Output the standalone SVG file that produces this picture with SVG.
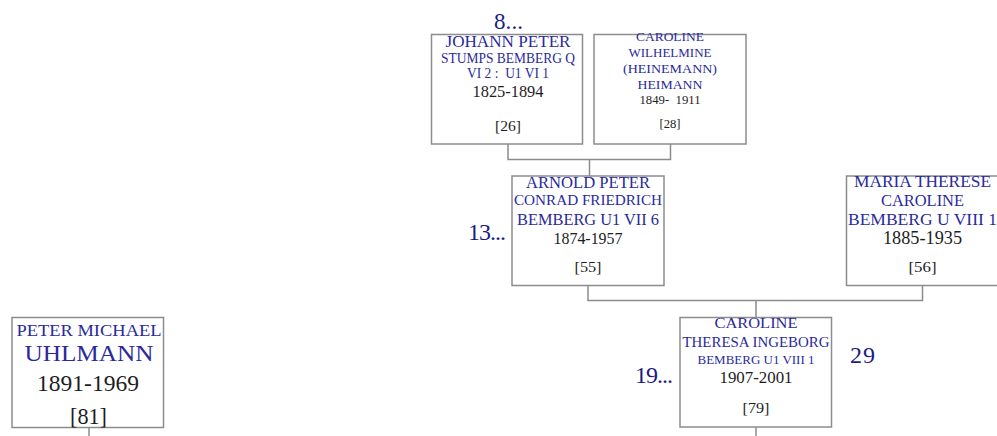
<svg xmlns="http://www.w3.org/2000/svg" width="997" height="436" viewBox="0 0 997 436">
<style>
text{font-family:"Liberation Serif","DejaVu Serif",serif;text-anchor:middle;white-space:pre}
.box{fill:#fff;stroke:#8c8c8c;stroke-width:1.5}
.nm{fill:#2a2a9c}
.dt{fill:#1e1e1e}
.gen{fill:#1c1c86;text-anchor:start}
.con{fill:none;stroke:#8c8c8c;stroke-width:1.5}
</style>
<rect width="997" height="436" fill="#fff"/>
<g id="connectors">
<path class="con" d="M508 144 V159.5 H670.5 V144 M589.5 159.5 V176"/>
<path class="con" d="M588 285.5 V300.5 H922.5 V285.5 M756 300.5 V317.5"/>
<path class="con" d="M756 427 V436"/>
<path class="con" d="M89 427.5 V436"/>
</g>
<g id="gen-8"><text class="gen" x="494" y="28.5" font-size="23" textLength="29">8...</text></g>
<g id="node-26">
<rect class="box" x="431.5" y="34.5" width="151" height="109.5"/>
<text class="nm" x="508" y="47" font-size="16" textLength="125" lengthAdjust="spacingAndGlyphs">JOHANN PETER</text>
<text class="nm" x="508" y="63" font-size="14" textLength="134" lengthAdjust="spacingAndGlyphs">STUMPS BEMBERG Q</text>
<text class="nm" x="508" y="78" font-size="14" textLength="82" lengthAdjust="spacingAndGlyphs">VI 2 :  U1 VI 1</text>
<text class="dt" x="508" y="96.5" font-size="17" textLength="71" lengthAdjust="spacingAndGlyphs">1825-1894</text>
<text class="dt" x="508" y="130.5" font-size="15" textLength="26" lengthAdjust="spacingAndGlyphs">[26]</text>
</g>
<g id="node-28">
<rect class="box" x="594" y="34.5" width="152" height="109.5"/>
<text class="nm" x="670" y="40.7" font-size="12.5" textLength="68" lengthAdjust="spacingAndGlyphs">CAROLINE</text>
<text class="nm" x="670" y="56.7" font-size="12.5" textLength="83" lengthAdjust="spacingAndGlyphs">WILHELMINE</text>
<text class="nm" x="670" y="72.7" font-size="12.5" textLength="94" lengthAdjust="spacingAndGlyphs">(HEINEMANN)</text>
<text class="nm" x="670" y="88.7" font-size="12.5" textLength="65" lengthAdjust="spacingAndGlyphs">HEIMANN</text>
<text class="dt" x="670" y="104.3" font-size="13.5" textLength="61" lengthAdjust="spacingAndGlyphs">1849-  1911</text>
<text class="dt" x="670" y="128" font-size="12.5" textLength="21" lengthAdjust="spacingAndGlyphs">[28]</text>
</g>
<g id="gen-13"><text class="gen" x="468" y="240" font-size="24" textLength="38">13...</text></g>
<g id="node-55">
<rect class="box" x="512" y="176" width="152" height="109.5"/>
<text class="nm" x="588" y="188.3" font-size="16" textLength="124" lengthAdjust="spacingAndGlyphs">ARNOLD PETER</text>
<text class="nm" x="588" y="205" font-size="15" textLength="148" lengthAdjust="spacingAndGlyphs">CONRAD FRIEDRICH</text>
<text class="nm" x="588" y="225" font-size="17" textLength="142" lengthAdjust="spacingAndGlyphs">BEMBERG U1 VII 6</text>
<text class="dt" x="588" y="244" font-size="17.5" textLength="69" lengthAdjust="spacingAndGlyphs">1874-1957</text>
<text class="dt" x="588" y="271.7" font-size="15" textLength="27" lengthAdjust="spacingAndGlyphs">[55]</text>
</g>
<g id="node-56">
<rect class="box" x="846.5" y="176" width="152" height="109.5"/>
<text class="nm" x="922.5" y="186.7" font-size="16" textLength="137" lengthAdjust="spacingAndGlyphs">MARIA THERESE</text>
<text class="nm" x="922.5" y="206" font-size="16" textLength="83" lengthAdjust="spacingAndGlyphs">CAROLINE</text>
<text class="nm" x="922.5" y="225" font-size="17" textLength="149" lengthAdjust="spacingAndGlyphs">BEMBERG U VIII 1</text>
<text class="dt" x="922.5" y="244" font-size="18" textLength="79" lengthAdjust="spacingAndGlyphs">1885-1935</text>
<text class="dt" x="922.5" y="271.7" font-size="15" textLength="28" lengthAdjust="spacingAndGlyphs">[56]</text>
</g>
<g id="gen-19"><text class="gen" x="635" y="383" font-size="24" textLength="38">19...</text></g>
<g id="gen-29"><text class="gen" x="850" y="363" font-size="24" textLength="25">29</text></g>
<g id="node-79">
<rect class="box" x="680" y="317.5" width="151.5" height="109.5"/>
<text class="nm" x="756" y="328.3" font-size="15" textLength="83" lengthAdjust="spacingAndGlyphs">CAROLINE</text>
<text class="nm" x="756" y="346.7" font-size="15" textLength="147" lengthAdjust="spacingAndGlyphs">THERESA INGEBORG</text>
<text class="nm" x="756" y="364" font-size="13.5" textLength="117" lengthAdjust="spacingAndGlyphs">BEMBERG U1 VIII 1</text>
<text class="dt" x="756" y="383.3" font-size="17" textLength="73" lengthAdjust="spacingAndGlyphs">1907-2001</text>
<text class="dt" x="756" y="413" font-size="15" textLength="27" lengthAdjust="spacingAndGlyphs">[79]</text>
</g>
<g id="node-81">
<rect class="box" x="12" y="317.5" width="151.5" height="110"/>
<text class="nm" x="89" y="336" font-size="16.5" textLength="145" lengthAdjust="spacingAndGlyphs">PETER MICHAEL</text>
<text class="nm" x="89" y="360.5" font-size="24" textLength="129" lengthAdjust="spacingAndGlyphs">UHLMANN</text>
<text class="dt" x="88" y="390.7" font-size="24" textLength="102" lengthAdjust="spacingAndGlyphs">1891-1969</text>
<text class="dt" x="88.5" y="424" font-size="23" textLength="37" lengthAdjust="spacingAndGlyphs">[81]</text>
</g>
</svg>
